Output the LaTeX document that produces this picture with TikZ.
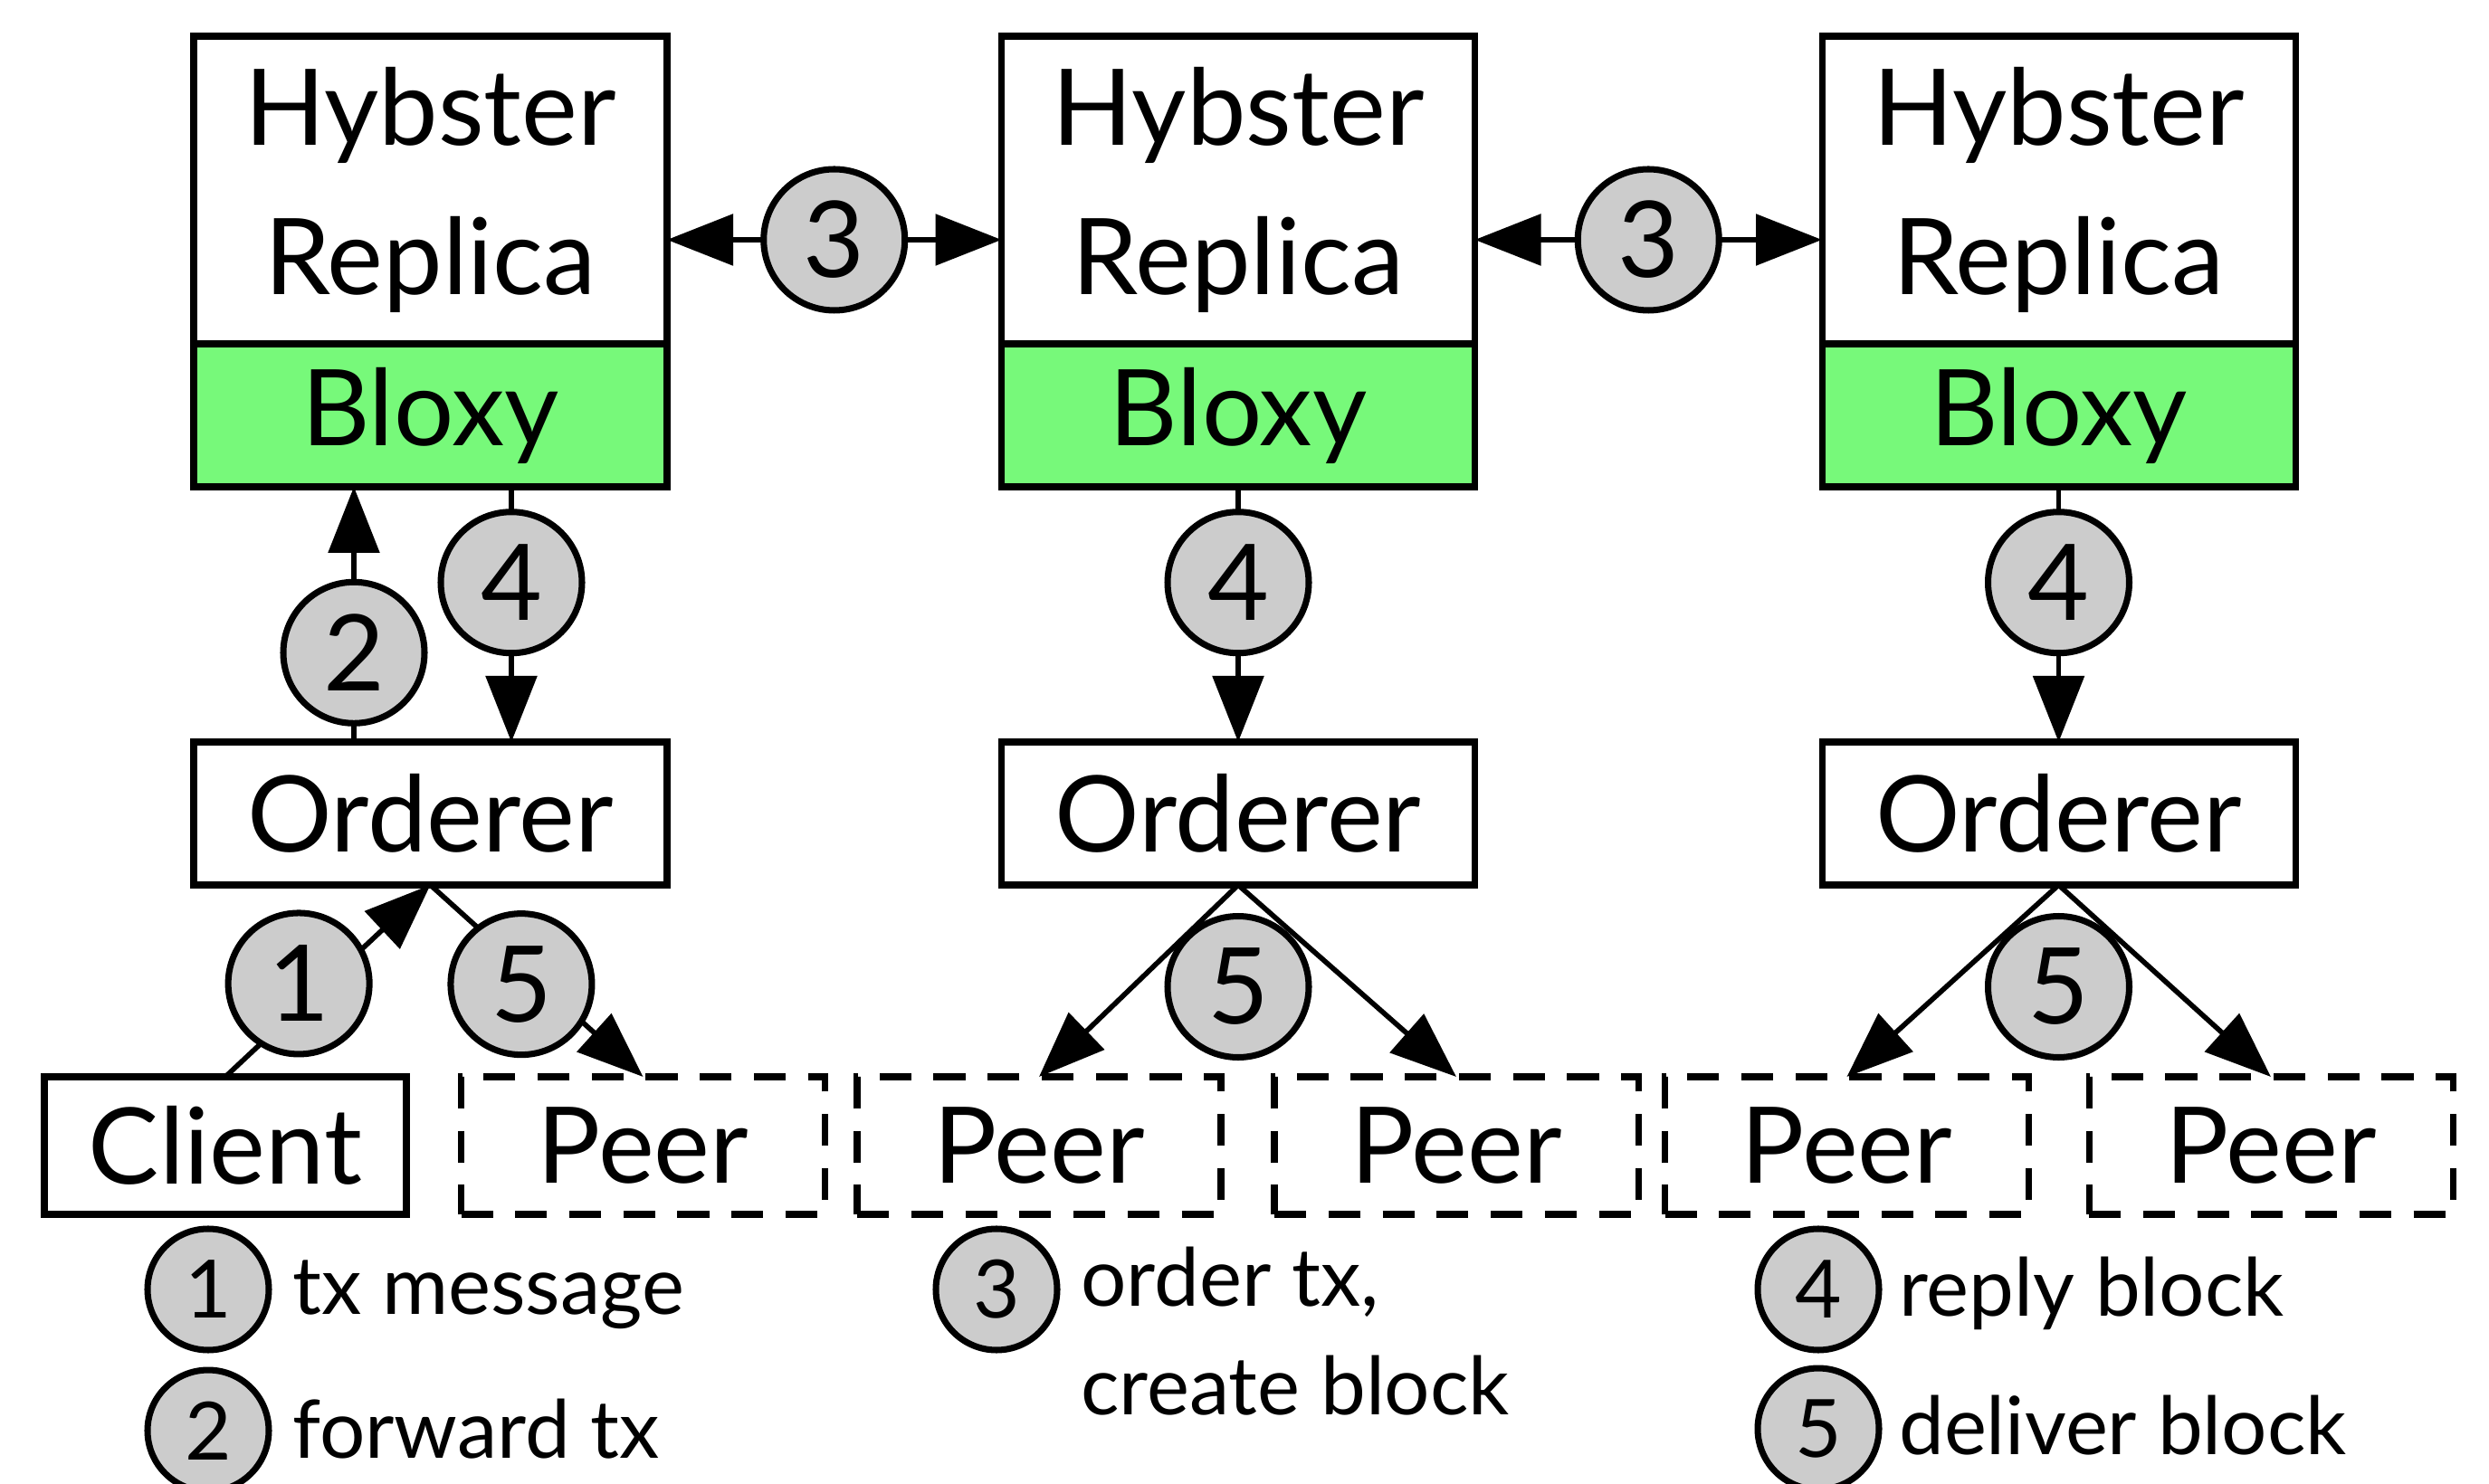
\documentclass[tikz,border=0pt]{standalone}
\usepackage{fontspec}
\setmainfont{Lato}
\usepackage{tikz}
\usetikzlibrary{positioning, arrows.meta, calc}
\definecolor{bloxygreen}{RGB}{119,249,122}
\definecolor{stepgray}{RGB}{204,204,204}

\begin{document}
\begin{tikzpicture}[
    box/.style={draw, line width=2pt, outer sep=0pt, minimum width=5.23cm, align=center, font=\fontsize{33.3}{47}\selectfont},
    replica/.style={box, minimum height=3.4cm},
    bloxy/.style={box, fill=bloxygreen, minimum height=1.58cm},
    orderer/.style={box, minimum height=1.58cm},
    client/.style={box, minimum width=4cm, minimum height=1.52cm},
    peer/.style={client, minimum width=4.02cm, dash pattern=on 10pt off 7pt},
    num/.style={circle, draw, line width=2pt, fill=stepgray, minimum size=1.56cm, inner sep=0pt, font=\fontsize{33.3}{40}\selectfont},
    keynum/.style={num, minimum size=1.34cm, font=\fontsize{25.3}{34}\selectfont},
    keytext/.style={inner sep=0pt, anchor=base west, align=left, font=\fontsize{25.3}{34}\selectfont},
    arrow/.style={-{Triangle[length=0.73cm, width=0.56cm]}, line width=1.6pt},
    both/.style={{Triangle[length=0.73cm, width=0.56cm]}-{Triangle[length=0.73cm, width=0.56cm]}, line width=1.6pt}
]
\useasboundingbox (0,0) rectangle (27.5,16.39);

% Replicas
\node[replica] (rep1) at (4.755,14.29) {Hybster\\Replica};
\node[bloxy, below=0pt of rep1] (blx1) {Bloxy};
\node[orderer, below=2.82cm of blx1] (ord1) {Orderer};

\node[replica] (rep2) at (13.68,14.29) {Hybster\\Replica};
\node[bloxy, below=0pt of rep2] (blx2) {Bloxy};
\node[orderer, below=2.82cm of blx2] (ord2) {Orderer};

\node[replica] (rep3) at (22.745,14.29) {Hybster\\Replica};
\node[bloxy, below=0pt of rep3] (blx3) {Bloxy};
\node[orderer, below=2.82cm of blx3] (ord3) {Orderer};

% Client and peers
\node[client] (client) at (2.49,3.73) {Client};
\node[peer] (peer1) at (7.105,3.73) {Peer};
\node[peer] (peer2) at (11.48,3.73) {Peer};
\node[peer] (peer3) at (16.09,3.73) {Peer};
\node[peer] (peer4) at (20.405,3.73) {Peer};
\node[peer] (peer5) at (25.09,3.73) {Peer};

% Connections
\draw[both] ([yshift=-0.55cm]rep1.east) -- node[num] (c3a) {3} ([yshift=-0.55cm]rep2.west);
\draw[both] ([yshift=-0.55cm]rep2.east) -- node[num] (c3b) {3} ([yshift=-0.55cm]rep3.west);

\draw[arrow] ([xshift=-0.845cm]ord1.north) -- node[num, pos=0.35] (c2) {2} ([xshift=-0.845cm]blx1.south);
\draw[arrow] ([xshift=0.895cm]blx1.south) -- node[num, pos=0.375] (c4a) {4} ([xshift=0.895cm]ord1.north);
\draw[arrow] (blx2.south) -- node[num, pos=0.375] (c4b) {4} (ord2.north);
\draw[arrow] (blx3.south) -- node[num, pos=0.375] (c4c) {4} (ord3.north);

\draw[arrow] (client.north) -- node[num, pos=0.42, xshift=-0.14cm, yshift=0.14cm] (c1) {1} (ord1.south);
\draw[arrow] (ord1.south) -- node[num, pos=0.47, xshift=-0.1cm, yshift=-0.1cm] (c5a) {5} (peer1.north);

\node[num, below=0.31cm of ord2] (c5b) {5};
\draw[arrow] (ord2.south) -- (peer2.north);
\draw[arrow] (ord2.south) -- (peer3.north);

\node[num, below=0.31cm of ord3] (c5c) {5};
\draw[arrow] (ord3.south) -- (peer4.north);
\draw[arrow] (ord3.south) -- (peer5.north);

% Legend
\node[keynum] (k1) at (2.30,2.14) {1};
\node[keynum, below=0.15cm of k1] (k2) {2};
\node[keynum] (k3) at (11.01,2.14) {3};
\node[keynum] (k4) at (20.09,2.14) {4};
\node[keynum, below=0.13cm of k4] (k5) {5};

\node[keytext] (t1) at ($(k1.east)+(0.22,-0.28)$) {tx message};
\node[keytext] (t2) at ($(k2.east)+(0.22,-0.3)$) {forward tx};
\node[keytext] (t3) at ($(k3.east)+(0.22,-1.38)$) {order tx,\\create block};
\node[keytext] (t4) at ($(k4.east)+(0.18,-0.3)$) {reply block};
\node[keytext] (t5) at ($(k5.east)+(0.18,-0.28)$) {deliver block};

\end{tikzpicture}
\end{document}
